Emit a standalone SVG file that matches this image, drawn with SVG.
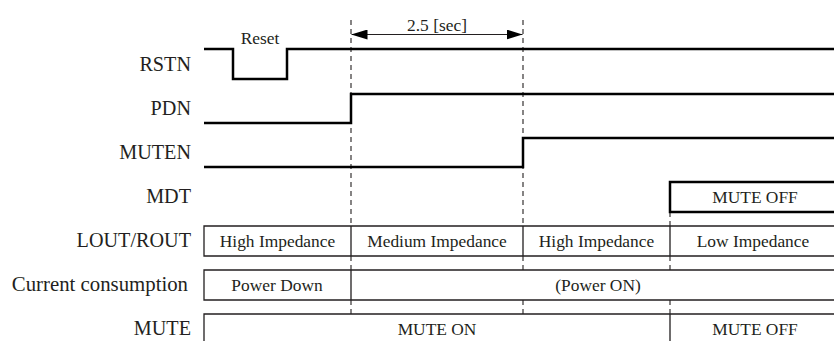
<svg xmlns="http://www.w3.org/2000/svg" width="834" height="341" viewBox="0 0 834 341">
<style>
text{font-family:"Liberation Serif","Times New Roman",serif;fill:#231f20}
.lbl{font-size:20.2px;text-anchor:end}
.box{font-size:17.4px;text-anchor:middle}
.sig{fill:none;stroke:#000;stroke-width:2.5;stroke-linejoin:miter}
.frame{fill:none;stroke:#231f20;stroke-width:1.3}
.dash{fill:none;stroke:#231f20;stroke-width:1.1;stroke-dasharray:5,4}
.thin{fill:none;stroke:#231f20;stroke-width:1.1}
</style>
<defs>
<marker id="ah" viewBox="0 0 16 10" refX="16" refY="5" markerWidth="16" markerHeight="10" markerUnits="userSpaceOnUse" orient="auto-start-reverse">
<path d="M0,0 L16,5 L0,10 Z" fill="#000"/>
</marker>
</defs>

<g id="connectors">
<path class="dash" d="M351,20 V226 M351,256 V270 M351,300 V314"/>
<path class="dash" d="M523,20 V226 M523,256 V270 M523,300 V314"/>
<path class="dash" d="M670,212 V226 M670,256 V270 M670,300 V314"/>
<path class="thin" d="M351.5,34.5 H522.5" marker-start="url(#ah)" marker-end="url(#ah)"/>
</g>

<g id="labels">
<text class="lbl" x="191" y="71">RSTN</text>
<text class="lbl" x="191" y="115">PDN</text>
<text class="lbl" x="191" y="159">MUTEN</text>
<text class="lbl" x="191" y="203">MDT</text>
<text class="lbl" x="191" y="247">LOUT/ROUT</text>
<text class="lbl" x="188" y="291" style="font-size:20.8px">Current consumption</text>
<text class="lbl" x="191" y="335">MUTE</text>
<text class="box" x="260" y="44">Reset</text>
<text class="box" x="437" y="31">2.5 [sec]</text>
</g>

<g id="rstn"><path class="sig" d="M204,49 H233 V79 H287 V49 H834"/></g>
<g id="pdn"><path class="sig" d="M204,123 H351 V94 H834"/></g>
<g id="muten"><path class="sig" d="M204,167 H523 V138 H834"/></g>
<g id="mdt">
<path class="sig" d="M834,182 H670 V212 H834"/>
<text class="box" x="755" y="203">MUTE OFF</text>
</g>

<g id="lout">
<path class="frame" d="M834,226 H204 V256 H834 M351,226 V256 M523,226 V256 M670,226 V256"/>
<text class="box" x="277.5" y="247">High Impedance</text>
<text class="box" x="437" y="247">Medium Impedance</text>
<text class="box" x="596.5" y="247">High Impedance</text>
<text class="box" x="753" y="247">Low Impedance</text>
</g>

<g id="current">
<path class="frame" d="M834,270 H204 V300 H834 M351,270 V300"/>
<text class="box" x="277" y="291">Power Down</text>
<text class="box" x="598" y="291">(Power ON)</text>
</g>

<g id="mute">
<path class="frame" d="M834,314 H204 V341 M670,314 V341"/>
<text class="box" x="437" y="335">MUTE ON</text>
<text class="box" x="755" y="335">MUTE OFF</text>
</g>
</svg>
